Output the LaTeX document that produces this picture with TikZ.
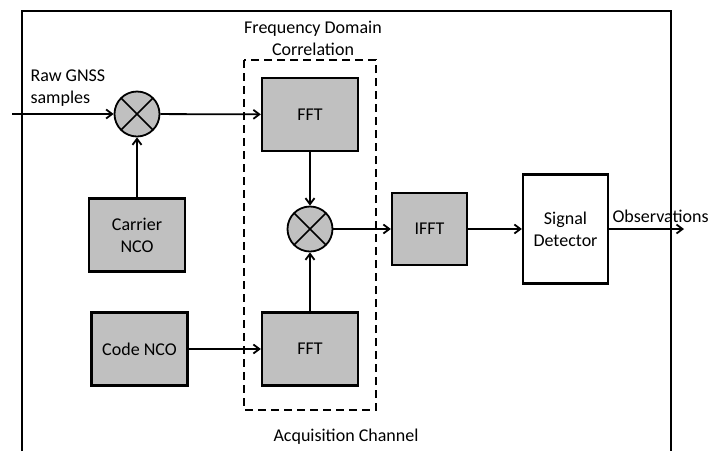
\documentclass[tikz,border=0pt]{standalone}
\usepackage{fontspec}
\setmainfont{Carlito}
\usetikzlibrary{arrows.meta}
\usetikzlibrary{positioning}
\definecolor{blockgray}{RGB}{192,192,192}

\begin{document}
\begin{tikzpicture}[x=1pt,y=-1pt,>={Straight Barb[length=6pt,width=9pt]},
  font=\fontsize{18}{22}\selectfont,
  block/.style={draw,line width=2.3pt,fill=blockgray,minimum width=96pt,minimum height=73pt,inner sep=0pt,align=center},
  mixer/.style={draw,line width=1.8pt,circle,fill=blockgray,minimum size=45pt,inner sep=0pt,
    path picture={\draw[line width=1.6pt] (path picture bounding box.north west) -- (path picture bounding box.south east)
      (path picture bounding box.north east) -- (path picture bounding box.south west);}},
  flow/.style={->,line width=1.8pt}]
\useasboundingbox (0,0) rectangle (709,451);
% channel frame, open at the bottom
\draw[line width=2.5pt] (22,451) -- (22,11) -- (671,11) -- (671,451);
\draw[line width=1.8pt,dash pattern=on 8pt off 5pt] (244,60) rectangle (376,410);
% blocks
\node[mixer] (mixa) at (137,114) {};
\node[block] (carrier) at (137,235) {Carrier\\NCO};
\node[block] (codenco) at (139.5,349) {Code NCO};
\node[block] (ffta) at (310,114.5) {FFT};
\node[mixer] (mixb) at (310,229) {};
\node[block] (fftb) at (310,349) {FFT};
\node[block,minimum width=75pt,minimum height=72pt] (ifft) at (429.5,229) {IFFT};
\node[block,fill=white,minimum width=85pt,minimum height=109pt] (detector) at (565.5,229) {Signal\\Detector};
% labels
\node[anchor=west,align=left] (rawlabel) at (27,88) {Raw GNSS\\samples};
\node[align=center] (fdclabel) at (313,38) {Frequency Domain\\Correlation};
\node (chanlabel) at (346,437) {Acquisition Channel};
\node[anchor=base west] (obslabel) at (609,222) {Observations};
\coordinate (input) at (12,114);
\coordinate (output) at (684,229);
% signal flow
\draw[flow] (input) -- (mixa);
\draw[flow] (mixa) -- (ffta);
\draw[flow] (carrier) -- (mixa);
\draw[flow] (ffta) -- (mixb);
\draw[flow] (fftb) -- (mixb);
\draw[flow] (codenco) -- (fftb);
\draw[flow] (mixb) -- (ifft);
\draw[flow] (ifft) -- (detector);
\draw[flow] (detector) -- (output);
\end{tikzpicture}
\end{document}
